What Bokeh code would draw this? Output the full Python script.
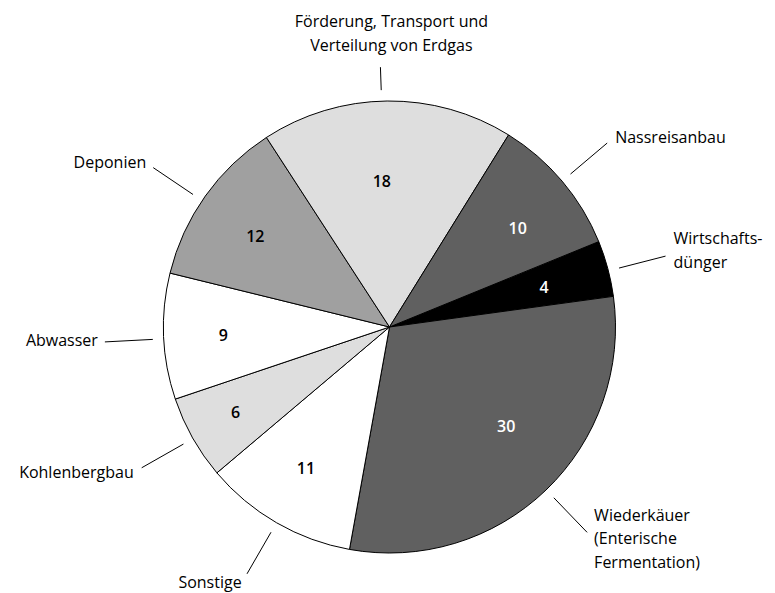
import math
from bokeh.plotting import figure
from bokeh.models import Range1d, ColumnDataSource
from bokeh.core.properties import value
from bokeh.embed import file_html
from bokeh.resources import INLINE

# ---- data ----
categories = ["Wirtschaftsdünger", "Wiederkäuer (Enterische Fermentation)", "Sonstige",
              "Kohlenbergbau", "Abwasser", "Deponien",
              "Förderung, Transport und Verteilung von Erdgas", "Nassreisanbau"]
labels = ["Wirtschafts-\ndünger", "Wiederkäuer\n(Enterische\nFermentation)", "Sonstige",
          "Kohlenbergbau", "Abwasser", "Deponien",
          "Förderung, Transport und\nVerteilung von Erdgas", "Nassreisanbau"]
values = [4, 30, 11, 6, 9, 12, 18, 10]

# ---- styles / layout ----
colors = ["#000000", "#606060", "#ffffff", "#dedede", "#ffffff", "#a0a0a0", "#dedede", "#606060"]
num_colors = ["white", "white", "black", "black", "black", "black", "black", "white"]
num_rfrac = [0.70, 0.67, 0.72, 0.77, 0.73, 0.71, 0.64, 0.71]
num_shift = [-0.6, 6, -0.6, -0.6, 0.4, 1.4, 2.4, -2.6]
lead_shift = [-0.6, 0.1, 0, 0.2, 0.6, 1.4, 1.4, 0]
lead_len = [48, 48, 48, 48, 48, 48, 23, 48]
lab_dx = [8, 7, -37, -8, -7, -7, 11, 8]
lab_dy = [-6, 6, 8, 4, -2, -6, -34, -6]       # screen px, downwards positive
lab_align = ["left", "left", "center", "right", "right", "right", "center", "left"]

CX, CY, R = 389, -326.5, 226
START = 22.2
FONT = "Open Sans"
NUM_FONT = "Open Sans SemiBold"

total = sum(values)
starts, ends, mids = [], [], []
acc = 0
for v in values:
    a0 = START - 360 * acc / total
    acc += v
    a1 = START - 360 * acc / total
    starts.append(math.radians(a0))
    ends.append(math.radians(a1))
    mids.append((a0 + a1) / 2)

p = figure(width=775, height=593, output_backend="svg", toolbar_location=None,
           x_range=Range1d(0, 775), y_range=Range1d(-593, 0), min_border=0)
p.axis.visible = False
p.grid.visible = False
p.outline_line_color = None

src = ColumnDataSource(dict(start=starts, end=ends, color=colors))
p.wedge(x=CX, y=CY, radius=R, start_angle="start", end_angle="end", direction="clock",
        fill_color="color", line_color="black", line_width=1, source=src)

# numbers
nx, ny = [], []
for m, f, s in zip(mids, num_rfrac, num_shift):
    a = math.radians(m + s)
    nx.append(CX + f * 228 * math.cos(a))
    ny.append(CY + f * 228 * math.sin(a))
p.text(x=nx, y=ny, text=[str(v) for v in values], text_color=num_colors,
       text_font=value(NUM_FONT), text_font_size="16px",
       text_align="center", text_baseline="middle")

# leader lines and labels
x0s, y0s, x1s, y1s = [], [], [], []
lx, ly = [], []
for m, s, L, dx, dy in zip(mids, lead_shift, lead_len, lab_dx, lab_dy):
    a = math.radians(m + s)
    r0, r1 = 237, 237 + L
    x0s.append(CX + r0 * math.cos(a)); y0s.append(CY + r0 * math.sin(a))
    ex, ey = CX + r1 * math.cos(a), CY + r1 * math.sin(a)
    x1s.append(ex); y1s.append(ey)
    lx.append(ex + dx); ly.append(ey - dy)
p.segment(x0=x0s, y0=y0s, x1=x1s, y1=y1s, line_color="black", line_width=1)

for i in range(len(labels)):
    p.text(x=[lx[i]], y=[ly[i]], text=[labels[i]], text_color="black",
           text_font=value(FONT), text_font_size="16px",
           text_align=lab_align[i], text_baseline="middle", text_line_height=1.06)

open("out.html", "w").write(file_html(p, INLINE))
